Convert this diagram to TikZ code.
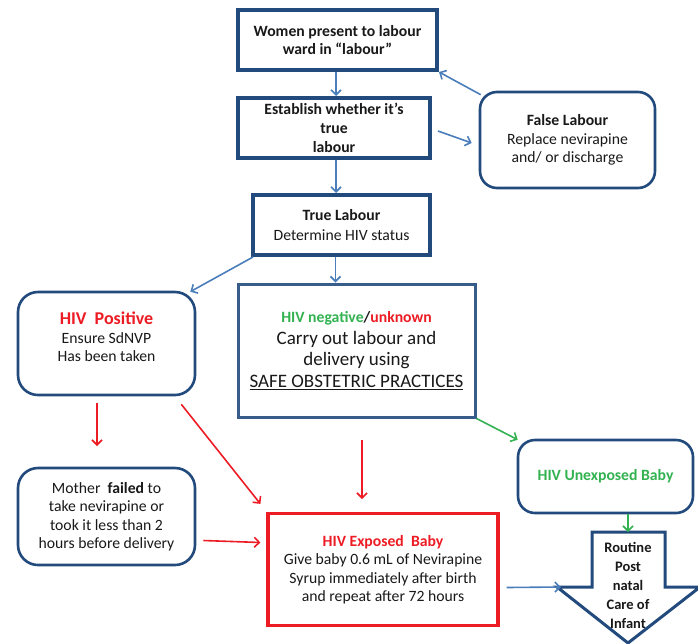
\documentclass[tikz,border=0pt]{standalone}
\usepackage{fontspec}
\setmainfont{Carlito}
\usetikzlibrary{arrows.meta}

\definecolor{frameblue}{RGB}{34,74,124}
\definecolor{softblue}{RGB}{56,93,138}
\definecolor{linkblue}{RGB}{74,126,187}
\definecolor{alertred}{RGB}{237,28,36}
\definecolor{safegreen}{RGB}{50,178,80}
\definecolor{inktext}{RGB}{25,25,25}

\tikzset{
  every node/.style={font=\fontsize{15.7}{18.5}\selectfont, text=inktext, align=center, inner sep=0pt},
  stepbox/.style={draw=frameblue, line width=4pt, rectangle, fill=white},
  roundbox/.style={draw=frameblue, line width=2.6pt, rectangle, rounded corners=17pt, fill=white},
  plainbox/.style={draw=softblue, line width=3pt, rectangle, fill=white},
  redbox/.style={draw=alertred, line width=3.2pt, rectangle, fill=white},
  link/.style={draw=linkblue, line width=1.6pt, -{Straight Barb[length=5pt,width=10pt]}},
  redlink/.style={draw=alertred, line width=1.6pt, -{Straight Barb[length=5pt,width=10pt]}},
  greenlink/.style={draw=safegreen, line width=1.6pt, -{Straight Barb[length=5pt,width=10pt]}},
}

\begin{document}
\begin{tikzpicture}[x=1pt,y=-1pt]
\useasboundingbox (0,0) rectangle (698,643);

% boxes
\node[stepbox, minimum width=199pt, minimum height=60pt] (present) at (337.5,40)
  {\bfseries Women present to labour\\\bfseries ward in “labour”};
\node[stepbox, minimum width=192pt, minimum height=60pt,
      font=\fontsize{15.7}{19}\selectfont\bfseries] (establish) at (334,128)
  {Establish whether it’s\\true\\labour};
\node[roundbox, minimum width=175pt, minimum height=96pt] (false) at (567.5,140)
  {\bfseries False Labour\\Replace nevirapine\\and/ or discharge};
\node[stepbox, minimum width=177pt, minimum height=60pt,
      font=\fontsize{15.7}{20}\selectfont] (true) at (341.5,225)
  {\textbf{True Labour}\\Determine HIV status};

\node[roundbox, minimum width=177pt, minimum height=103pt, rounded corners=20pt] (pos) at (106.5,343.5) {};
\node (postext) at (106.5,337)
  {{\fontsize{18}{20}\selectfont\bfseries\color{alertred}HIV~~Positive}\\Ensure SdNVP\\Has been taken};

\node[plainbox, minimum width=237pt, minimum height=133pt,
      font=\fontsize{19}{21.7}\selectfont] (neg) at (356.5,350.5)
  {{\fontsize{15.7}{18}\selectfont\bfseries\color{safegreen}HIV negative\color{inktext}/\color{alertred}unknown}\\
   Carry out labour and\\delivery using\\\underline{SAFE OBSTETRIC PRACTICES}};

\node[roundbox, minimum width=175pt, minimum height=73pt] (unexp) at (605.5,476.5)
  {\bfseries\color{safegreen}HIV Unexposed Baby};

\node[roundbox, minimum width=177pt, minimum height=97pt, rounded corners=20pt] (mother) at (106.5,516.5)
  {Mother~ \textbf{failed} to\\take nevirapine or\\took it less than 2\\hours before delivery};

\node[redbox, minimum width=230pt, minimum height=112pt] (exposed) at (383,569.5)
  {{\bfseries\color{alertred}HIV Exposed~ Baby}\\Give baby 0.6 mL of Nevirapine\\Syrup immediately after birth\\and repeat after 72 hours};

% block arrow for routine care
\draw[draw=frameblue, line width=3pt, fill=white, line join=miter]
  (592,532) -- (665,532) -- (665,587) -- (700,587) -- (628,643) -- (557,587) -- (592,587) -- cycle;
\coordinate (routinetop) at (628,532);
\coordinate (routineleft) at (561,587);
\node[font=\fontsize{14.5}{18.8}\selectfont\bfseries] (routine) at (628,585.5)
  {Routine\\Post\\natal\\Care of\\Infant};

% free ends of the red connectors
\coordinate (posdownstart) at (97,403);
\coordinate (posdownend) at (97,446);
\coordinate (negdownstart) at (362,440);
\coordinate (negdownend) at (362,499);

% blue connectors
\draw[link] (establish.north |- present.south) ++(2,0) -- ([xshift=2pt]establish.north);
\draw[link] ([xshift=2pt]establish.south) -- ([xshift=2pt]establish.south |- true.north);
\draw[link] ([xshift=6pt,yshift=-3pt]establish.east) -- ([xshift=-7pt,yshift=-3pt]false.west);
\draw[link] ([xshift=2pt,yshift=-4pt]false.north west) -- (present.south east);
\draw[link] ([xshift=2pt]true.south west) -- ([xshift=-6pt,yshift=-1pt]pos.north east);
\draw[link] ([xshift=-6pt]true.south) -- ([xshift=-6pt]true.south |- neg.north);
\draw[link] ([xshift=7pt,yshift=-18pt]exposed.east) -- (routineleft);

% green connectors
\draw[greenlink] (neg.south east) -- ([xshift=1pt,yshift=-1pt]unexp.north west);
\draw[greenlink] (routinetop |- unexp.south) -- (routinetop);

% red connectors
\draw[redlink] (posdownstart) -- (posdownend);
\draw[redlink] ([xshift=-15pt,yshift=-8pt]pos.south east) -- ([xshift=-6pt,yshift=8pt]exposed.north west);
\draw[redlink] (negdownstart) -- (negdownend);
\draw[redlink] ([xshift=7pt,yshift=-24pt]mother.east) -- ([xshift=-6pt,yshift=27pt]exposed.west);
\end{tikzpicture}
\end{document}
